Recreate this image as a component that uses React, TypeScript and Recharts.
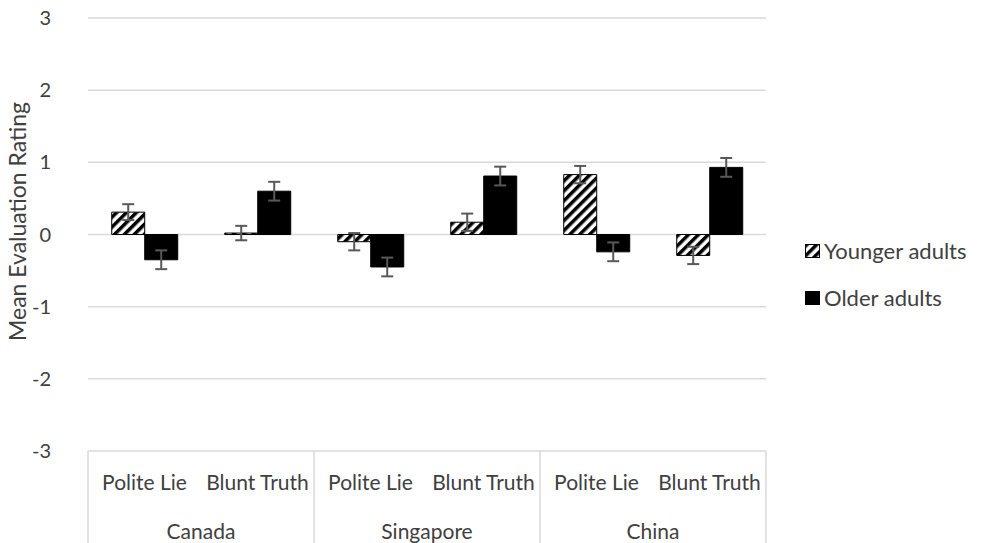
import React from 'react';
import {
  BarChart,
  Bar,
  XAxis,
  YAxis,
  CartesianGrid,
  ErrorBar,
  Legend,
  Label,
} from 'recharts';

const conditions = ['Polite Lie', 'Blunt Truth', 'Polite Lie', 'Blunt Truth', 'Polite Lie', 'Blunt Truth'];
const countries = ['Canada', 'Singapore', 'China'];
const younger = [0.31, 0.02, -0.1, 0.17, 0.83, -0.29];
const older = [-0.35, 0.6, -0.45, 0.81, -0.24, 0.93];
const youngerErr = [0.11, 0.1, 0.12, 0.12, 0.12, 0.12];
const olderErr = [0.13, 0.13, 0.13, 0.13, 0.13, 0.13];
const yTicks = [-3, -2, -1, 0, 1, 2, 3];

const FONT = 'Lato, "Open Sans", sans-serif';
const TEXT = '#404040';
const GRID = '#d9d9d9';

const chartData = conditions.map((c, i) => ({
  condition: c,
  country: countries[Math.floor(i / 2)],
  younger: younger[i],
  older: older[i],
  youngerErr: youngerErr[i],
  olderErr: olderErr[i],
}));

// two level axis: condition on top, country below, boxed by grey separators
const CategoryTick = (props: any) => {
  const { x, y, payload } = props;
  const i = payload.index ?? props.index;
  const half = payload.offset || 56.5;
  const h = 92;
  return (
    <g>
      <text x={x} y={y + 39} textAnchor="middle" fill={TEXT} fontSize={21} fontFamily={FONT}>
        {payload.value}
      </text>
      {i % 2 === 0 && (
        <>
          <line x1={x - half} y1={y} x2={x - half} y2={y + h} stroke={GRID} strokeWidth={1.5} />
          <text x={x + half} y={y + 88} textAnchor="middle" fill={TEXT} fontSize={21} fontFamily={FONT}>
            {countries[i / 2]}
          </text>
        </>
      )}
      {i === conditions.length - 1 && (
        <line x1={x + half} y1={y} x2={x + half} y2={y + h} stroke={GRID} strokeWidth={1.5} />
      )}
    </g>
  );
};

const HatchIcon = ({ hatch }: { hatch: boolean }) => (
  <svg width={15} height={14} style={{ marginRight: 4 }}>
    <rect x={0.5} y={0.5} width={14} height={13} fill={hatch ? 'url(#hatch)' : '#000'} stroke="#000" />
  </svg>
);

const LegendContent = () => (
  <div style={{ fontFamily: FONT, fontSize: 22, color: TEXT }}>
    <div style={{ display: 'flex', alignItems: 'center', height: 47 }}>
      <HatchIcon hatch />
      Younger adults
    </div>
    <div style={{ display: 'flex', alignItems: 'center', height: 47 }}>
      <HatchIcon hatch={false} />
      Older adults
    </div>
  </div>
);

export default function App() {
  return (
    <div style={{ position: 'absolute', left: 0, top: 0, background: '#fff' }}>
      <BarChart
        width={986}
        height={543}
        data={chartData}
        margin={{ top: 18, right: 220, left: 0, bottom: 0 }}
        barCategoryGap="21%"
        barGap={0}
      >
        <defs>
          <pattern id="hatch" width={7} height={7} patternUnits="userSpaceOnUse" patternTransform="rotate(45)">
            <rect x={0} y={0} width={7} height={7} fill="#fff" />
            <rect x={0} y={0} width={3.5} height={7} fill="#000" />
          </pattern>
        </defs>
        <CartesianGrid vertical={false} stroke={GRID} strokeWidth={1.5} />
        <XAxis
          dataKey="condition"
          height={92}
          axisLine={false}
          tickLine={false}
          tickSize={0}
          tickMargin={0}
          interval={0}
          tick={<CategoryTick />}
        />
        <YAxis
          width={88}
          domain={[-3, 3]}
          ticks={yTicks}
          axisLine={false}
          tickLine={false}
          tickSize={0}
          tickMargin={37}
          tick={{ fill: TEXT, fontSize: 20, fontFamily: FONT }}
        >
          <Label
            value="Mean Evaluation Rating"
            angle={-90}
            position="insideLeft"
            offset={18}
            style={{ fill: TEXT, fontSize: 23, fontFamily: FONT, textAnchor: 'middle' }}
            dy={-13}
          />
        </YAxis>
        <Legend
          layout="horizontal"
          verticalAlign="middle"
          align="center"
          content={<LegendContent />}
          wrapperStyle={{ left: 805, top: 227, width: 180 }}
        />
        <Bar dataKey="younger" name="Younger adults" fill="url(#hatch)" stroke="#000" strokeWidth={1} isAnimationActive={false}>
          <ErrorBar dataKey="youngerErr" width={6} stroke="#595959" strokeWidth={2} />
        </Bar>
        <Bar dataKey="older" name="Older adults" fill="#000" stroke="#000" strokeWidth={1} isAnimationActive={false}>
          <ErrorBar dataKey="olderErr" width={6} stroke="#595959" strokeWidth={2} />
        </Bar>
      </BarChart>
    </div>
  );
}
